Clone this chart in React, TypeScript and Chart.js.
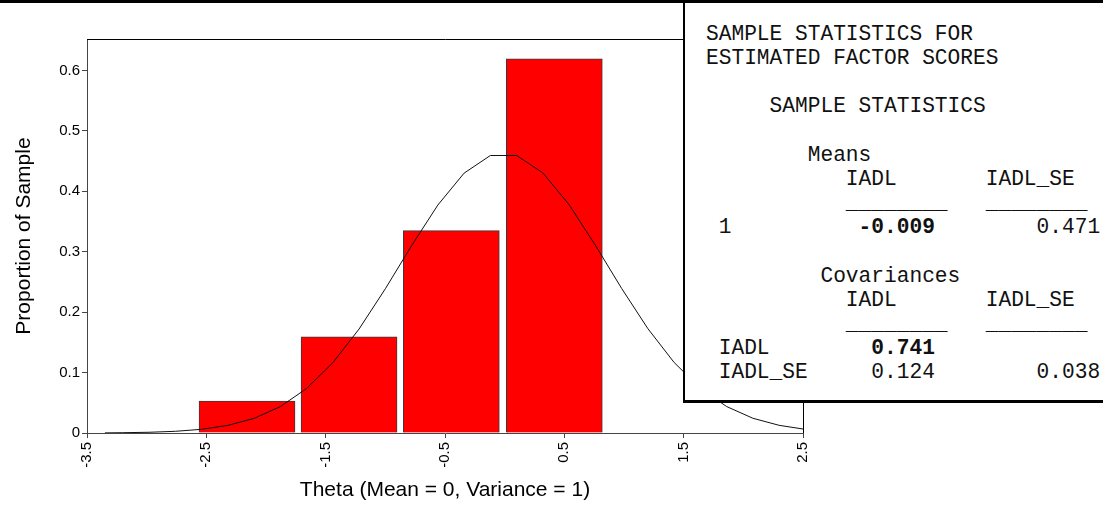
import React, { useEffect, useRef } from "react";
import { Chart, registerables } from "chart.js";

Chart.register(...registerables);

// Histogram of estimated factor scores (bin centres on the theta scale)
const binCenters = [-2.159, -1.304, -0.447, 0.416];
const binProportions = [0.053, 0.159, 0.335, 0.619];

// Reference normal curve
const curveTheta = [
  -3.35, -3.2, -2.98, -2.76, -2.54, -2.32, -2.1, -1.88, -1.66, -1.44, -1.22, -1.0, -0.78, -0.56,
  -0.34, -0.12, 0.1, 0.32, 0.54, 0.76, 0.98, 1.2, 1.42, 1.64, 1.86, 2.08, 2.3, 2.5,
];
const curveProportion = [
  0.0002, 0.0005, 0.0012, 0.0028, 0.0061, 0.0126, 0.0242, 0.0436, 0.0736, 0.1163, 0.1721, 0.2387,
  0.31, 0.3772, 0.43, 0.4592, 0.4593, 0.4304, 0.3778, 0.3107, 0.2393, 0.1727, 0.1167, 0.0739,
  0.0438, 0.0244, 0.0127, 0.0066,
];

const xTickValues = [-3.5, -2.5, -1.5, -0.5, 0.5, 1.5, 2.5];
const xTickLabels = ["-3.5", "-2.5", "-1.5", "-0.5", "0.5", "1.5", "2.5"];
const yTickValues = [0, 0.1, 0.2, 0.3, 0.4, 0.5, 0.6];
const yTickLabels = ["0", "0.1", "0.2", "0.3", "0.4", "0.5", "0.6"];

const xTitle = "Theta (Mean = 0, Variance = 1)";
const yTitle = "Proportion of Sample";

const SANS = "'Liberation Sans', Arial, sans-serif";
const MONO = "'Liberation Mono', 'Courier New', monospace";

Chart.defaults.font.family = SANS;
Chart.defaults.font.size = 15;
Chart.defaults.color = "#000";

const framePlugin = {
  id: "frame",
  afterDatasetsDraw(chart: any) {
    const { ctx, chartArea } = chart;
    ctx.save();
    ctx.strokeStyle = "#000";
    ctx.lineWidth = 1;
    ctx.beginPath();
    ctx.moveTo(chartArea.left, chartArea.top + 0.5);
    ctx.lineTo(chartArea.right + 0.5, chartArea.top + 0.5);
    ctx.lineTo(chartArea.right + 0.5, chartArea.bottom);
    ctx.stroke();
    ctx.restore();
  },
};

export default function App() {
  const ref = useRef<HTMLCanvasElement | null>(null);

  useEffect(() => {
    if (!ref.current) return;
    const chart = new Chart(ref.current, {
      type: "bar",
      data: {
        datasets: [
          {
            type: "line",
            data: curveTheta.map((x, i) => ({ x, y: curveProportion[i] })),
            borderColor: "#111",
            borderWidth: 1,
            pointRadius: 0,
            tension: 0,
            fill: false,
            order: 1,
          } as any,
          {
            type: "bar",
            data: binCenters.map((x, i) => ({ x, y: binProportions[i] })),
            backgroundColor: "#FF0000",
            borderColor: "#3a3a3a",
            borderWidth: 1,
            barThickness: 96,
            order: 2,
          } as any,
        ],
      },
      options: {
        animation: false,
        responsive: false,
        maintainAspectRatio: false,
        layout: { padding: { top: 39, right: 300, bottom: 0, left: 0 } },
        plugins: { legend: { display: false }, tooltip: { enabled: false } },
        scales: {
          x: {
            type: "linear",
            offset: false,
            min: -3.5,
            max: 2.5,
            afterBuildTicks: (s: any) => {
              s.ticks = xTickValues.map((v) => ({ value: v }));
            },
            afterFit: (s: any) => {
              s.height = 72;
            },
            ticks: {
              autoSkip: false,
              maxRotation: 90,
              minRotation: 90,
              padding: 4,
              color: "#000",
              font: { family: SANS, size: 15 },
              callback: (_v: any, i: number) => xTickLabels[i],
            },
            grid: { drawOnChartArea: false, drawTicks: true, tickLength: 5, color: "#444", offset: false },
            border: { display: true, color: "#444", width: 1 },
            title: {
              display: true,
              text: xTitle,
              color: "#000",
              font: { family: SANS, size: 21 },
              padding: { top: 0, bottom: 2 },
            },
          },
          y: {
            type: "linear",
            min: 0,
            max: 0.652,
            afterBuildTicks: (s: any) => {
              s.ticks = yTickValues.map((v) => ({ value: v }));
            },
            afterFit: (s: any) => {
              s.width = 87;
            },
            ticks: {
              padding: 2,
              color: "#000",
              font: { family: SANS, size: 15 },
              callback: (_v: any, i: number) => yTickLabels[i],
            },
            grid: { drawOnChartArea: false, drawTicks: true, tickLength: 5, color: "#444" },
            border: { display: true, color: "#444", width: 1 },
            title: {
              display: true,
              text: yTitle,
              color: "#000",
              font: { family: SANS, size: 21 },
              padding: { top: 12, bottom: 0 },
            },
          },
        },
      },
      plugins: [framePlugin],
    } as any);
    return () => chart.destroy();
  }, []);

  const b = (t: string) => <b>{t}</b>;

  return (
    <div style={{ position: "fixed", left: 0, top: 0, width: 1103, height: 505, background: "#fff", overflow: "hidden" }}>
      <canvas ref={ref} width={1103} height={505} style={{ position: "absolute", left: 0, top: 0, width: 1103, height: 505 }} />
      <div style={{ position: "absolute", left: 0, top: 0, width: 1103, height: 3, background: "#000" }} />
      <div
        style={{
          position: "absolute",
          left: 683,
          top: 3,
          width: 440,
          height: 397,
          background: "#fff",
          borderLeft: "2px solid #000",
          borderBottom: "3px solid #000",
        }}
      />
      <pre
        style={{
          position: "absolute",
          left: 706,
          top: 22,
          margin: 0,
          fontFamily: MONO,
          fontSize: "21.2px",
          lineHeight: "24.15px",
          color: "#111",
        }}
      >
        {"SAMPLE STATISTICS FOR\n"}
        {"ESTIMATED FACTOR SCORES\n"}
        {"\n"}
        {"     SAMPLE STATISTICS\n"}
        {"\n"}
        {"        Means\n"}
        {"           IADL       IADL_SE\n"}
        {"           ________   ________\n"}
        {" 1          "}
        {b("-0.009")}
        {"        0.471\n"}
        {"\n"}
        {"         Covariances\n"}
        {"           IADL       IADL_SE\n"}
        {"           ________   ________\n"}
        {" IADL        "}
        {b("0.741")}
        {"\n"}
        {" IADL_SE     0.124        0.038"}
      </pre>
    </div>
  );
}
